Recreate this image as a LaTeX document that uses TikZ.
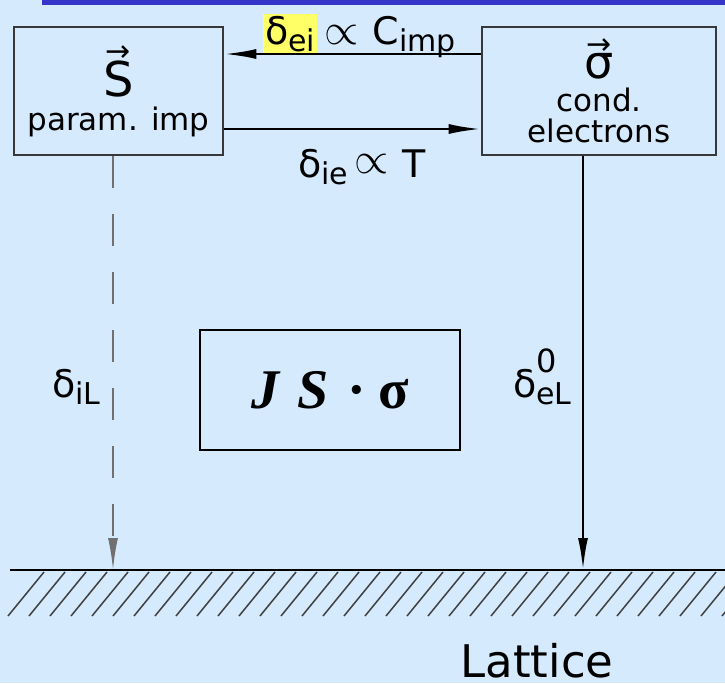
\documentclass[tikz,border=0pt]{standalone}
\usepackage{fontspec}
\setmainfont{DejaVu Sans}
\newfontfamily\formulafont{Liberation Serif}
\usepackage{graphicx}
\usepackage{xcolor}
\definecolor{paperBlue}{HTML}{D6EAFD}
\definecolor{barBlue}{HTML}{3535C8}
\definecolor{markYellow}{HTML}{FFFF66}
\definecolor{inkGray}{HTML}{383838}
\definecolor{dashGray}{HTML}{707070}
\usetikzlibrary{
    arrows.meta,
    positioning
}
% small lowered / raised letters for the rates
\newcommand{\lowsub}[1]{\raisebox{-7pt}{\fontsize{30}{30}\selectfont #1}}
\newcommand{\highsup}[1]{\raisebox{25pt}{\fontsize{32}{32}\selectfont #1}}
% wide proportional sign
\newcommand{\propsign}{{\fontsize{10}{10}\selectfont\scalebox{4.4}{$\propto$}}}
% little vector arrow over a letter
\newcommand{\arrowover}[1]{\leavevmode\vbox{\offinterlineskip\halign{\hfil##\hfil\cr
    {\fontsize{30}{30}\selectfont →}\cr\noalign{\kern-1pt}#1\cr}}}
\tikzset{
    % Boxes for the two spin systems
    spinbox/.style={
        rectangle,
        draw=inkGray,
        line width=2.6pt,
        minimum height=128pt,
        inner sep=0pt,
        align=center,
        font=\fontsize{31}{31}\selectfont,
    },
    % Box with the coupling term
    couplebox/.style={
        rectangle,
        draw=black,
        line width=2.2pt,
        minimum width=260pt,
        minimum height=120pt,
        font=\formulafont\fontsize{56}{56}\selectfont\bfseries,
    },
    % Relaxation arrows
    arrow/.style={
        -{Latex[length=32pt, width=10pt]},
        line width=2.4pt,
        draw=black,
    },
    % Dashed arrow variant
    arrow dashed/.style={
        arrow,
        draw=dashGray,
        line width=2pt,
        dash pattern=on 32pt off 26pt,
    },
    % Labels of the rates
    rate label/.style={
        font=\fontsize{38}{38}\selectfont,
        inner sep=1pt,
    },
    % Lattice floor and hatching
    ground/.style={line width=2.2pt, draw=black},
    hatch/.style={line width=1.5pt, draw=black!75},
}

\begin{document}
\begin{tikzpicture}[x=1pt, y=-1pt]
    \useasboundingbox (0,0) rectangle (725,683);
    \fill[paperBlue] (0,0) rectangle (725,683);
    \fill[barBlue] (42,0) rectangle (725,5);

    \node (imp) [spinbox, minimum width=209pt] at (118.5,91)
        {\arrowover{\fontsize{48}{48}\selectfont S}\\[3pt]param. imp};
    \node (elec) [spinbox, minimum width=234pt] at (599,91)
        {\arrowover{\fontsize{46}{46}\selectfont σ}\\[2pt]cond.\\[0pt]electrons};
    \node (coupling) [couplebox] at (330,390) {{\itshape J\,\,S}\,\,·\hspace{12pt}σ};

    \coordinate (impfoot) at (113,570);
    \coordinate (elecfoot) at (583,570);

    % lattice
    \draw [ground] (10,570) -- (725,570);
    \foreach \x in {8,29,...,730}
        \draw [hatch] (\x,616) -- ++(36,-44);
    \node (lattice) [font=\fontsize{45}{45}\selectfont, anchor=base] at (537,677) {Lattice};

    % relaxation paths
    \draw [arrow] ([yshift=37pt]elec.west) -- ([yshift=37pt]imp.east);
    \draw [arrow] ([yshift=-38pt]imp.east) -- ([yshift=-38pt]elec.west);
    \draw [arrow dashed] ([xshift=-5.5pt]imp.south) -- (impfoot);
    \draw [arrow] ([xshift=-16pt]elec.south) -- (elecfoot);

    \node (eimark) [rate label, fill=markYellow, inner sep=2pt, anchor=base west] at (263,44) {δ\lowsub{ei}};
    \node (eirate) [rate label, right=6pt of eimark.base east, anchor=base west] {\propsign\hspace{14pt}C\lowsub{imp}};
    \node (ierate) [rate label, anchor=base west] at (297,177) {δ\lowsub{ie}\,\raisebox{4pt}{\propsign}\hspace{14pt}T};
    \node (ilrate) [rate label, anchor=base west] at (51,397) {δ\lowsub{iL}};
    \node (elrate) [rate label, anchor=base west] at (512,397) {δ\rlap{\highsup{0}}\lowsub{eL}};
\end{tikzpicture}
\end{document}
